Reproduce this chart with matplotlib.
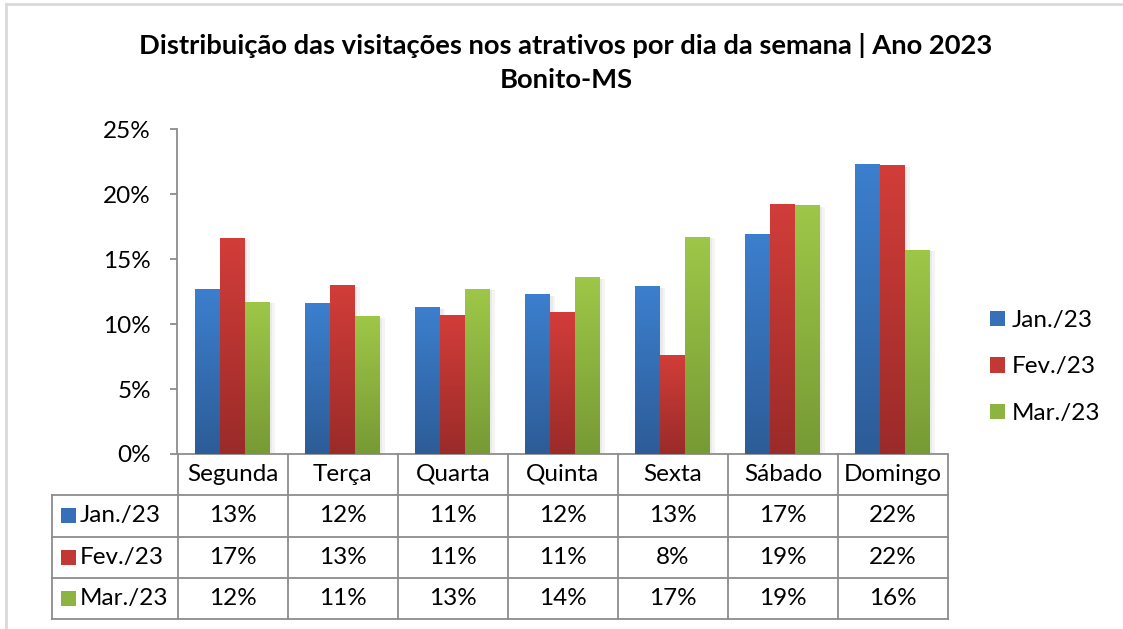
import numpy as np
import matplotlib
matplotlib.use("Agg")
import matplotlib.pyplot as plt
from matplotlib.patches import Rectangle
from matplotlib.lines import Line2D
from matplotlib.colors import LinearSegmentedColormap
import matplotlib.patheffects as pe

# ---------------- data ----------------
categories = ["Segunda", "Terça", "Quarta", "Quinta", "Sexta", "Sábado", "Domingo"]
series_names = ["Jan./23", "Fev./23", "Mar./23"]
jan = [12.7, 11.6, 11.3, 12.3, 12.9, 16.9, 22.3]
fev = [16.6, 13.0, 10.7, 10.9, 7.55, 19.2, 22.2]
mar = [11.7, 10.6, 12.7, 13.6, 16.7, 19.1, 15.7]
yticks = [0, 5, 10, 15, 20, 25]
title_line1 = "Distribuição das visitações nos atrativos por dia da semana | Ano 2023"
title_line2 = "Bonito-MS"

# ---------------- style ----------------
FONT = "Lato"
plt.rcParams["font.family"] = [FONT, "DejaVu Sans"]
grad_colors = [("#3C7FCE", "#2D5C97"), ("#D23D39", "#9A2B29"), ("#9EC748", "#779A35")]
mid_colors = ["#3570B8", "#C13834", "#8DB340"]
LINE = "#8C8C8C"
FS = 17.5

W, H = 1123, 629
fig = plt.figure(figsize=(W / 100, H / 100), dpi=100)

def px(x0, y0, x1, y1):
    return [x0 / W, 1 - y1 / H, (x1 - x0) / W, (y1 - y0) / H]

# border
fig.add_artist(Line2D([6 / W, 6 / W], [0, 1 - 4 / H], color="#D9D9D9", lw=2, transform=fig.transFigure))
fig.add_artist(Line2D([6 / W, 1], [1 - 4 / H, 1 - 4 / H], color="#D9D9D9", lw=2, transform=fig.transFigure))

# title
fig.text(566 / W, 1 - 45 / H, title_line1, ha="center", va="center", fontsize=19.7, fontweight="bold")
fig.text(566 / W, 1 - 80 / H, title_line2, ha="center", va="center", fontsize=19.7, fontweight="bold")

# main axes
ax = fig.add_axes(px(177.3, 129.3, 947.3, 454))
x = np.arange(len(categories))
bw = 0.225
series = [jan, fev, mar]
offsets = [-bw, 0, bw]
shadow = [pe.SimplePatchShadow(offset=(4, -1), shadow_rgbFace="#9A9A9A", alpha=0.10),
          pe.SimplePatchShadow(offset=(2, -1), shadow_rgbFace="#9A9A9A", alpha=0.12),
          pe.Normal()]
for vals, off, gc, mc in zip(series, offsets, grad_colors, mid_colors):
    bars = ax.bar(x + off, vals, width=bw, color=mc, zorder=2, path_effects=shadow)
    cmap = LinearSegmentedColormap.from_list("g", [gc[1], gc[0]])
    grad = np.linspace(0, 1, 256).reshape(-1, 1)
    for b in bars:
        bx, by, w_, h_ = b.get_x(), b.get_y(), b.get_width(), b.get_height()
        ax.imshow(grad, extent=[bx, bx + w_, by, by + h_], origin="lower", cmap=cmap,
                  aspect="auto", zorder=3, interpolation="bilinear")

ax.set_xlim(-0.5, 6.5)
ax.set_ylim(0, 25)
ax.set_yticks(yticks)
ax.set_yticklabels([f"{t}%" for t in yticks], fontsize=FS)
ax.set_xticks([])
for s in ["top", "right"]:
    ax.spines[s].set_visible(False)
for s in ["left", "bottom"]:
    ax.spines[s].set_color(LINE)
    ax.spines[s].set_linewidth(1.3)
ax.tick_params(axis="y", direction="out", length=5, width=1.3, color=LINE, pad=14)
ax.set_facecolor("none")

# data table
x_left = -0.5 - 126.0 / 110.0
tax = fig.add_axes(px(51.7, 454, 948, 619.3))
tax.set_xlim(x_left, 6.5)
tax.set_ylim(165.3, 0)
tax.axis("off")
row_edges = [0, 41, 82.7, 123.7, 165.3]
for ry in row_edges[1:]:
    tax.plot([x_left, 6.5], [ry, ry], color=LINE, lw=1.3, clip_on=False, solid_capstyle="projecting")
for k in range(len(categories) + 1):
    tax.plot([-0.5 + k, -0.5 + k], [0, 165.3], color=LINE, lw=1.3, clip_on=False)
tax.plot([x_left, x_left], [41, 165.3], color=LINE, lw=1.3, clip_on=False)
for i, c in enumerate(categories):
    tax.text(i, 20.5, c, ha="center", va="center", fontsize=FS)
for r, (vals, name, gc, mc) in enumerate(zip(series, series_names, grad_colors, mid_colors)):
    yc = (row_edges[r + 1] + row_edges[r + 2]) / 2
    for i, v in enumerate(vals):
        tax.text(i, yc, f"{v:.0f}%", ha="center", va="center", fontsize=FS)
    sx = x_left + (61 - 51.7) / 110.0
    tax.add_patch(Rectangle((sx, yc - 7.5), 15 / 110.0, 15, facecolor=mc, edgecolor="none"))
    tax.text(x_left + (80 - 51.7) / 110.0, yc, name, ha="left", va="center", fontsize=FS)

# legend
handles = [Rectangle((0, 0), 1, 1, facecolor=mc, edgecolor="none") for mc in mid_colors]
fig.legend(handles, series_names, loc="center left", bbox_to_anchor=(980 / W, 1 - 367 / H),
           frameon=False, fontsize=FS, handlelength=0.62, handleheight=0.62,
           handletextpad=0.3, labelspacing=1.05, borderaxespad=0)

fig.savefig("out.png", dpi=100)
